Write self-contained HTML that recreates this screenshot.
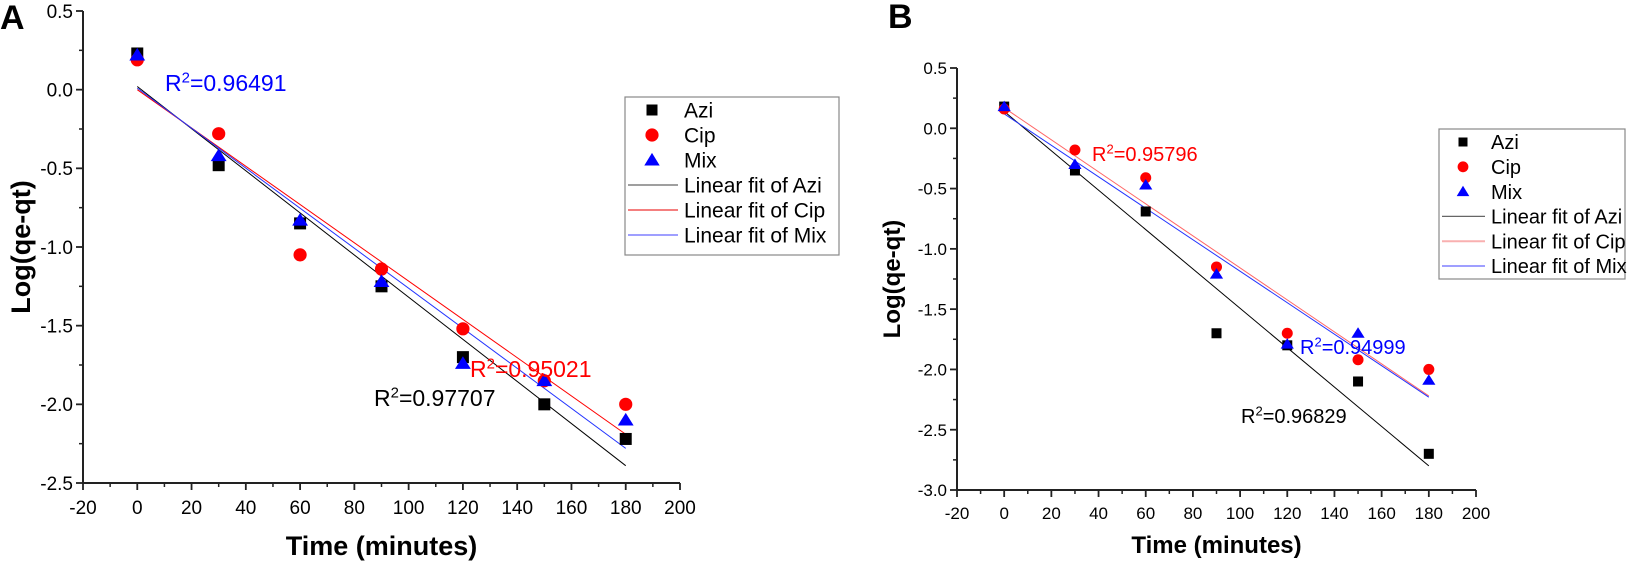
<!DOCTYPE html>
<html><head><meta charset="utf-8"><style>
html,body{margin:0;padding:0;background:#fff;}
svg{display:block;font-family:"Liberation Sans",Arial,sans-serif;}
</style></head><body>
<svg id="fig" width="1627" height="564" viewBox="0 0 1627 564" xmlns="http://www.w3.org/2000/svg"></svg>
<script>
const xCats = [0,30,60,90,120,150,180];
const aAzi = [0.23,-0.48,-0.85,-1.25,-1.70,-2.00,-2.22];
const aCip = [0.19,-0.28,-1.05,-1.14,-1.52,-1.85,-2.00];
const aMix = [0.22,-0.42,-0.83,-1.22,-1.74,-1.85,-2.10];
const aFitAzi = [0.02,-2.39];
const aFitCip = [0.0,-2.19];
const aFitMix = [0.01,-2.28];
const bAzi = [0.18,-0.35,-0.69,-1.70,-1.80,-2.10,-2.70];
const bCip = [0.16,-0.18,-0.41,-1.15,-1.70,-1.92,-2.00];
const bMix = [0.18,-0.30,-0.47,-1.21,-1.79,-1.70,-2.09];
const bFitAzi = [0.14,-2.80];
const bFitCip = [0.17,-2.22];
const bFitMix = [0.12,-2.23];
const fitRange = [0,180];
const xTicks = [-20,0,20,40,60,80,100,120,140,160,180,200];
const aYTicks = [0.5,0.0,-0.5,-1.0,-1.5,-2.0,-2.5];
const bYTicks = [0.5,0.0,-0.5,-1.0,-1.5,-2.0,-2.5,-3.0];

const NS="http://www.w3.org/2000/svg";
const svg=document.getElementById('fig');
function el(tag,attrs,parent,text){const e=document.createElementNS(NS,tag);for(const k in attrs)e.setAttribute(k,attrs[k]);if(text!==undefined)e.textContent=text;(parent||svg).appendChild(e);return e;}

function panel(cfg){
  const g=el('g',{});
  
  
  const xs=v=>cfg.x0+(v-(-20))/(220)*(cfg.x1-cfg.x0);
  const ys=v=>cfg.yTop+(cfg.yMax-v)/(cfg.yMax-cfg.yMin)*(cfg.yBot-cfg.yTop);
  const ax=el('path',{d:`M${cfg.x0} ${cfg.yTop}V${cfg.yBot}H${cfg.x1}`,stroke:'#222',fill:'none','stroke-width':2},g);
  
  
  xTicks.forEach((t,i)=>{
    const x=xs(t);
    el('line',{x1:x,x2:x,y1:cfg.yBot,y2:cfg.yBot+7,stroke:'#222','stroke-width':1.8},g);
    if(i<xTicks.length-1){const xm=xs(t+10);el('line',{x1:xm,x2:xm,y1:cfg.yBot,y2:cfg.yBot+4,stroke:'#222','stroke-width':1.5},g);}
    const tl=el('text',{x:x,y:cfg.yBot+cfg.fs+12,'font-size':cfg.fs,'text-anchor':'middle',fill:'#000'},g,String(t));
    
    
  });
  cfg.yTicks.forEach((t,i)=>{
    const y=ys(t);
    el('line',{x1:cfg.x0-7,x2:cfg.x0,y1:y,y2:y,stroke:'#222','stroke-width':1.8},g);
    if(i<cfg.yTicks.length-1){const ym=ys(t-0.25);el('line',{x1:cfg.x0-4,x2:cfg.x0,y1:ym,y2:ym,stroke:'#222','stroke-width':1.5},g);}
    const tl=el('text',{x:cfg.x0-10,y:y+cfg.fs*0.36,'font-size':cfg.fs,'text-anchor':'end',fill:'#000'},g,t.toFixed(1));
    
    
  });
  const xt=el('text',{x:(cfg.x0+cfg.x1)/2,y:cfg.xTitleY,'font-size':cfg.tfs,'font-weight':'bold','text-anchor':'middle'},g,'Time (minutes)');
  
  
  const yt=el('text',{x:0,y:0,'font-size':cfg.tfs,'font-weight':'bold','text-anchor':'middle',transform:`translate(${cfg.yTitleX},${(cfg.yTop+cfg.yBot)/2}) rotate(-90)`},g,'Log(qe-qt)');
  
  
  const pl=el('text',{x:cfg.letterX,y:cfg.letterY,'font-size':34,'font-weight':'bold'},g,cfg.letter);
  
  
  [[cfg.fits[0],'#000','fit-line-azi'],[cfg.fits[1],cfg.redFit,'fit-line-cip'],[cfg.fits[2],'#2233ff','fit-line-mix']].forEach(([f,c,n])=>{
    const l=el('line',{x1:xs(fitRange[0]),y1:ys(f[0]),x2:xs(fitRange[1]),y2:ys(f[1]),stroke:c,'stroke-width':1},g);
    
    
  });
  const ms=cfg.ms;
  cfg.series[0].forEach((v,i)=>{const r=el('rect',{x:xs(xCats[i])-ms/2,y:ys(v)-ms/2,width:ms,height:ms,fill:'#000'},g);
    });
  cfg.series[1].forEach((v,i)=>{const r=el('circle',{cx:xs(xCats[i]),cy:ys(v),r:ms*0.55,fill:'#f00'},g);
    });
  cfg.series[2].forEach((v,i)=>{const x=xs(xCats[i]),y=ys(v),h=ms*0.6;const r=el('polygon',{points:`${x},${y-h} ${x-h*1.1},${y+h*0.75} ${x+h*1.1},${y+h*0.75}`,fill:'#00f'},g);
    });
  cfg.ann.forEach(a=>{
    const t=el('text',{x:a[0],y:a[1],'font-size':cfg.afs,fill:a[2]},g);
    
    
    el('tspan',{},t,'R');
    el('tspan',{dy:-cfg.afs*0.38,'font-size':cfg.afs*0.65},t,'2');
    el('tspan',{dy:cfg.afs*0.38},t,'='+a[3]);
  });
  const L=cfg.leg;
  const lg=el('g',{},g);
  
  
  el('rect',{x:L.x,y:L.y,width:L.w,height:L.h,fill:'#fff',stroke:'#888','stroke-width':1.2},lg);
  const labels=['Azi','Cip','Mix','Linear fit of Azi','Linear fit of Cip','Linear fit of Mix'];
  labels.forEach((lab,i)=>{
    const y=L.r0+i*L.dy;const mx=L.mx;const s=L.ms;
    if(i===0)el('rect',{x:mx-s/2,y:y-s/2,width:s,height:s,fill:'#000'},lg);
    if(i===1)el('circle',{cx:mx,cy:y,r:s*0.6,fill:'#f00'},lg);
    if(i===2)el('polygon',{points:`${mx},${y-s*0.65} ${mx-s*0.7},${y+s*0.5} ${mx+s*0.7},${y+s*0.5}`,fill:'#00f'},lg);
    if(i>=3)el('line',{x1:L.x+3,x2:L.lx2,y1:y,y2:y,stroke:['#666',cfg.redLeg,'#6666ff'][i-3],'stroke-width':i===4&&cfg.redLeg!=='#e33'?2:1.3},lg);
    const t=el('text',{x:L.tx,y:y+L.fs*0.36,'font-size':L.fs},lg,lab);
    
    
  });
}

panel({name:'panel-a',letter:'A',letterX:0,letterY:29,x0:83,x1:680,yTop:11,yBot:483,yMax:0.5,yMin:-2.5,yTicks:aYTicks,
  fs:19,tfs:27,xTitleY:555,yTitleX:30,ms:12,redFit:'#f00',redLeg:'#e33',afs:23,
  series:[aAzi,aCip,aMix],fits:[aFitAzi,aFitCip,aFitMix],
  ann:[[165,91,'#00f','0.96491','r2-mix-a'],[470,377,'#f00','0.95021','r2-cip-a'],[374,406,'#000','0.97707','r2-azi-a']],
  leg:{x:625,y:97,w:214,h:158,r0:110,dy:25,mx:652,ms:11,tx:684,lx2:678,fs:21}});
panel({name:'panel-b',letter:'B',letterX:888,letterY:28,x0:957,x1:1476,yTop:68,yBot:490,yMax:0.5,yMin:-3.0,yTicks:bYTicks,
  fs:17,tfs:24,xTitleY:553,yTitleX:900,ms:10,redFit:'#f66',redLeg:'#f9b0b0',afs:20,
  series:[bAzi,bCip,bMix],fits:[bFitAzi,bFitCip,bFitMix],
  ann:[[1092,161,'#f00','0.95796','r2-cip-b'],[1300,354,'#00f','0.94999','r2-mix-b'],[1241,423,'#000','0.96829','r2-azi-b']],
  leg:{x:1439,y:129,w:186,h:150,r0:142,dy:24.8,mx:1463,ms:9,tx:1491,lx2:1485,fs:20}});
</script>
</body></html>
